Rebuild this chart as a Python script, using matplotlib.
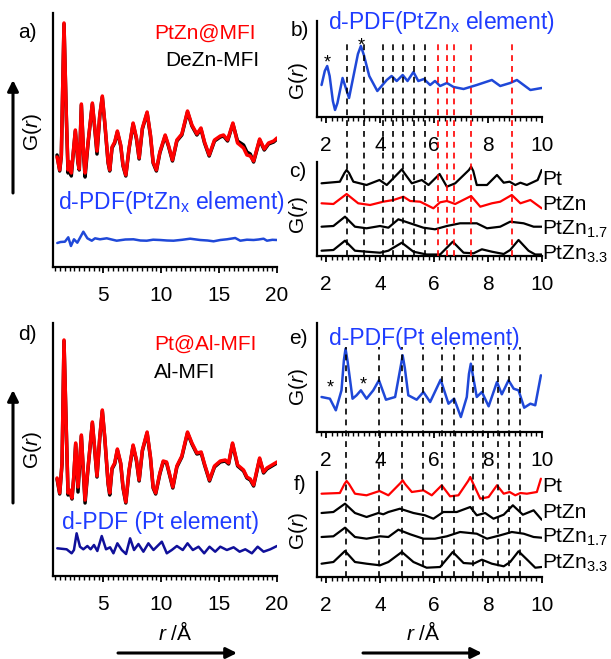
import matplotlib
matplotlib.use('Agg')
import matplotlib.pyplot as plt
import matplotlib.transforms as mtrans
from matplotlib.lines import Line2D
from matplotlib.patches import FancyArrowPatch
from matplotlib.ticker import MultipleLocator

plt.rcParams['font.family'] = ['Liberation Sans', 'DejaVu Sans']
plt.rcParams['mathtext.fontset'] = 'custom'
plt.rcParams['mathtext.rm'] = 'Liberation Sans'
plt.rcParams['mathtext.it'] = 'Liberation Sans:italic'
plt.rcParams['mathtext.bf'] = 'Liberation Sans:bold'

W, H = 611, 659

# ---- panel a : PtZn@MFI / DeZn-MFI and difference ----
a_x = [1.0, 1.23, 1.37, 1.6, 1.8, 1.95, 2.09, 2.23, 2.38, 2.58, 2.81, 2.92, 3.1, 3.3, 3.42,
       3.68, 4.05, 4.26, 4.45, 4.69, 4.91, 5.12, 5.41, 5.55, 5.75, 5.98, 6.21, 6.5, 6.7,
       6.94, 7.22, 7.57, 7.86, 8.09, 8.37, 8.78, 9.07, 9.3, 9.58, 9.88, 10.34, 10.62,
       10.97, 11.35, 11.78, 12.27, 12.65, 13.08, 13.43, 13.74, 14.14, 14.6, 15.1, 15.38,
       15.73, 16.19, 16.59, 17.11, 17.4, 17.69, 17.98, 18.5, 18.9, 19.27, 19.71, 20.0]
a_red = [110, 97, 112, 244, 152, 97, 105, 94, 112, 137, 105, 98, 163, 112, 94,
         125, 164, 139, 116, 152, 171, 145, 105, 97, 120, 125, 136, 122, 102,
         92, 119, 144, 129, 109, 139, 155, 132, 105, 97, 115, 132, 122,
         107, 127, 133, 156, 142, 133, 139, 125, 112, 127, 131, 132,
         127, 144, 124, 119, 112, 111, 106, 128, 118, 124, 126, 129]
a_black = [112, 96, 111, 243, 151, 94, 104, 91, 111, 136, 104, 97, 162, 111, 90,
           124, 163, 138, 113, 151, 170, 144, 104, 96, 119, 124, 135, 121, 101,
           91, 118, 143, 128, 108, 138, 154, 131, 104, 96, 114, 131, 121,
           106, 126, 132, 155, 141, 132, 138, 124, 111, 126, 130, 131,
           126, 143, 126, 122, 115, 113, 105, 127, 117, 123, 125, 128]
a_dx = [1.02, 1.3, 1.68, 1.97, 2.2, 2.46, 2.75, 3.27, 3.62, 4.0, 4.28, 4.71, 5.29, 6.15,
        6.9, 7.6, 8.2, 8.75, 9.3, 9.9, 10.5, 11.06, 11.8, 12.5, 13.36, 14.0, 14.52, 15.1,
        15.67, 16.39, 16.83, 17.4, 17.98, 18.4, 18.84, 19.13, 19.6, 20.0]
a_diff = [24, 25, 25.3, 29.7, 21, 27.7, 24.3, 35.3, 28.7, 26.3, 28.7, 27.7, 28.7, 26.3,
          27.5, 27.7, 26.5, 26.3, 27.3, 27, 26.5, 26.3, 27.2, 28.3, 27, 26.5, 25.7, 27,
          27.7, 29, 26.3, 27.3, 27, 27.5, 28.3, 26.3, 27.2, 27]

# ---- panel d : Pt@Al-MFI / Al-MFI and difference ----
d_x = [1.0, 1.23, 1.43, 1.6, 1.8, 1.95, 2.09, 2.29, 2.44, 2.61, 2.81, 3.1, 3.3, 3.42, 3.68,
       4.05, 4.26, 4.45, 4.69, 4.91, 5.12, 5.41, 5.55, 5.75, 5.98, 6.21, 6.5, 6.7, 6.94,
       7.22, 7.57, 7.86, 8.09, 8.37, 8.78, 9.07, 9.3, 9.52, 9.88, 10.17, 10.46, 11.0,
       11.35, 11.78, 12.27, 12.65, 13.08, 13.45, 13.74, 14.17, 14.6, 15.1, 15.53, 15.82,
       16.16, 16.6, 17.11, 17.4, 17.69, 17.98, 18.5, 18.84, 19.13, 19.71, 20.0]
d_red = [98, 83, 113, 236, 146, 83, 86, 78, 99, 133, 89, 141, 99, 76, 109,
         154, 126, 100, 139, 166, 139, 93, 83, 108, 113, 127, 113, 89, 74,
         106, 131, 116, 96, 126, 144, 119, 89, 83, 103, 115, 114, 89,
         110, 120, 144, 133, 123, 124, 112, 96, 110, 115, 116, 113,
         133, 111, 106, 99, 97, 91, 118, 104, 108, 112, 114]
d_black = [97, 82, 112, 235, 145, 81, 85, 77, 98, 132, 84, 140, 98, 73, 108,
           153, 125, 99, 138, 165, 138, 92, 81, 107, 112, 126, 112, 88, 73,
           105, 130, 115, 95, 125, 143, 118, 88, 82, 102, 114, 113, 88,
           109, 119, 143, 132, 122, 123, 111, 95, 109, 114, 115, 112,
           132, 110, 105, 98, 96, 90, 117, 103, 107, 111, 113]
d_dx = [1.02, 1.83, 2.26, 2.46, 2.69, 2.98, 3.27, 3.62, 3.9, 4.19, 4.48, 4.86, 5.23, 5.58,
        5.87, 6.21, 6.59, 6.96, 7.31, 7.65, 8.03, 8.46, 8.89, 9.33, 10.05, 10.48, 10.91,
        11.35, 11.86, 12.27, 12.73, 13.22, 13.71, 14.17, 14.66, 15.1, 15.67, 16.25, 16.77,
        17.26, 17.83, 18.33, 18.84, 19.42, 20.0]
d_diff = [27.7, 26.7, 22.7, 26, 42.7, 29.3, 26.7, 30, 26.7, 31, 25, 40, 26.7, 28.7,
          22.7, 32.7, 26, 22, 37.7, 26, 32, 24.3, 32.7, 26, 34.3, 22.7, 26,
          30, 26, 32.7, 26, 29.3, 22.7, 29.3, 24.3, 29.3, 26, 28.7, 24.3,
          26.7, 22.7, 29.3, 24.3, 26.7, 30]

# ---- panel b : d-PDF (PtZn_x element) ----
b_x = [1.83, 1.95, 2.04, 2.13, 2.25, 2.33, 2.42, 2.61, 2.85, 3.18, 3.29, 3.4, 3.6, 3.9,
       4.25, 4.43, 4.62, 4.84, 5.02, 5.24, 5.42, 5.63, 5.86, 6.04, 6.23, 6.48, 6.73, 7.1,
       7.59, 8.15, 8.46, 8.83, 9.08, 9.58, 10.0]
b_y = [32, 46, 51, 41, 16, 7, 14, 39, 19, 63, 71, 62, 41, 26,
       37, 41, 36, 42, 36, 45, 36, 38, 32, 36, 31, 34, 30, 28,
       32, 37, 31, 34, 37, 27, 29]
b_black_dash = [2.76, 3.41, 4.10, 4.50, 4.87, 5.27, 5.68]
b_red_dash = [6.17, 6.48, 6.75, 7.38, 8.90]

# ---- panel c : simulated PDFs ----
c_pt_x = [1.83, 2.51, 2.68, 2.76, 2.85, 3.01, 3.5, 3.98, 4.25, 4.72, 4.81, 4.9, 5.18, 5.55,
          5.8, 6.21, 6.48, 6.79, 7.3, 7.38, 7.46, 7.59, 7.97, 8.34, 8.59, 8.81, 9.02, 9.21,
          9.45, 9.85, 10.0]
c_pt_y = [72.7, 74.3, 83, 86, 83, 74.3, 71, 76, 71, 84, 86.7, 83, 72.7, 76,
          71, 82, 69.3, 72.7, 86, 89.3, 85, 71, 71, 81, 73.3, 74.3, 71, 73.3,
          71, 76, 86]
c_ptzn_x = [1.83, 2.27, 2.76, 3.19, 3.63, 4.12, 4.5, 4.87, 5.12, 5.49, 5.98, 6.23, 6.48,
            6.79, 7.38, 7.72, 8.15, 8.46, 8.89, 9.21, 9.58, 10.0]
c_ptzn_y = [52.7, 52, 62, 52.7, 51, 54.3, 56, 59.3, 55, 54.3, 47.7, 53.7, 55,
            52, 60, 49.3, 52.7, 54.3, 61, 52.7, 56, 47.7]
c_pz17_x = [1.83, 2.27, 2.7, 3.07, 3.5, 4.0, 4.31, 4.68, 5.12, 5.61, 6.04, 6.48, 6.97,
            7.59, 7.97, 8.46, 8.83, 9.33, 9.7, 10.0]
c_pz17_y = [29.3, 30, 39.3, 29.3, 27.7, 30, 28.3, 36.7, 32.7, 28.3, 26.7, 30, 32.7,
            32.7, 27.7, 29.3, 34.3, 32.7, 29.3, 29.3]
c_pz33_x = [1.83, 2.27, 2.7, 3.07, 3.5, 4.0, 4.31, 4.81, 5.24, 5.73, 6.23, 6.7, 7.1,
            7.47, 7.78, 8.15, 8.59, 8.83, 9.14, 9.51, 9.76, 10.0]
c_pz33_y = [5.3, 6, 15.3, 5.3, 4.3, 3.3, 5.3, 13.3, 4.3, 1.5, 1.5, 14.3, 3.3,
            2.7, 6.7, 4.3, 2, 6, 16, 5.3, 1.5, 1.5]

# ---- panel e : d-PDF (Pt element) ----
e_x = [1.83, 2.14, 2.36, 2.57, 2.66, 2.72, 2.8, 2.98, 3.13, 3.29, 3.5, 3.75, 3.96, 4.22,
       4.56, 4.77, 4.84, 4.92, 5.05, 5.36, 5.61, 5.86, 6.25, 6.54, 6.75, 7.0, 7.22, 7.3,
       7.37, 7.45, 7.59, 7.78, 8.03, 8.34, 8.52, 8.77, 8.96, 9.14, 9.35, 9.58, 9.76, 9.97]
e_y = [35, 33.3, 21.7, 41.7, 72, 83.3, 70, 33.3, 36.7, 41.7, 33.3, 41.7, 51.7, 32.3,
       35, 66, 76.7, 64, 36.7, 32.3, 40, 30, 52.3, 28.3, 33.3, 15, 35, 58,
       68.3, 56, 35, 40, 25.7, 50, 37.7, 51.7, 43.3, 41.7, 24.3, 28.3, 26.7, 56.7]
e_dash = [2.74, 3.98, 4.81, 5.61, 6.29, 6.75, 7.45, 7.82, 8.37, 8.77, 9.18]

# ---- panel f : simulated PDFs ----
f_pt_x = [1.83, 2.51, 2.68, 2.76, 2.85, 3.07, 3.5, 3.98, 4.31, 4.76, 4.84, 4.93, 5.18,
          5.61, 5.92, 6.29, 6.6, 6.91, 7.27, 7.35, 7.43, 7.72, 8.03, 8.34, 8.59, 8.81,
          9.02, 9.21, 9.45, 9.82, 9.97]
f_pt_y = [83.3, 84, 93, 96, 93, 83.3, 81.7, 86, 81.7, 94, 96.7, 93, 85,
          86.7, 81.7, 91.7, 80.7, 81.7, 96, 100, 95, 78.3, 80, 91.7, 83.3, 85,
          81.7, 84, 83.3, 85, 98.3]
f_ptzn_x = [1.83, 2.27, 2.7, 3.07, 3.5, 3.94, 4.12, 4.31, 4.74, 5.24, 5.67, 5.98, 6.35,
            6.85, 7.35, 7.59, 7.9, 8.21, 8.59, 8.93, 9.3, 9.7, 10.0]
f_ptzn_y = [64, 65, 73.3, 64, 60, 64, 62.7, 65, 68.3, 64, 61.7, 58.3, 65,
            65, 70, 61.7, 64, 58.3, 62.3, 71.7, 62.3, 66.7, 57.3]
f_pz17_x = [1.83, 2.27, 2.7, 3.07, 3.5, 4.0, 4.31, 4.68, 5.12, 5.61, 6.04, 6.48, 6.97,
            7.59, 7.97, 8.46, 8.89, 9.33, 9.7, 10.0]
f_pz17_y = [40, 40.7, 49.3, 40, 38.3, 40.7, 40, 47.3, 42.7, 38.3, 38.3, 40.7, 45,
            43.3, 38.3, 41.7, 45, 43.3, 40, 39.3]
f_pz33_x = [1.83, 2.27, 2.7, 3.07, 3.5, 4.0, 4.31, 4.81, 5.24, 5.73, 6.23, 6.7, 7.1,
            7.47, 7.78, 8.15, 8.59, 8.83, 9.14, 9.51, 9.76, 10.0]
f_pz33_y = [13.3, 15, 26, 15, 13.3, 11.7, 15, 25, 15, 9.3, 10, 25, 14,
            13.3, 17.3, 13.3, 10.7, 15, 25.7, 16, 9.3, 10]

RED = '#ff0000'
BLUE = '#1f48d8'
NAVY = '#10109a'
TBLUE = '#1f3cff'
FS = 15
FS_PDF = 16.5


def frac(px, py):
    return px / W, 1 - py / H


def box(left, top, right, bottom):
    return [left / W, 1 - bottom / H, (right - left) / W, (bottom - top) / H]


def style(ax, xlim, ylim, major, minor):
    ax.set_xlim(*xlim)
    ax.set_ylim(*ylim)
    ax.patch.set_alpha(0)
    for s in ['top', 'right']:
        ax.spines[s].set_visible(False)
    for s in ['left', 'bottom']:
        ax.spines[s].set_linewidth(1.6)
    ax.set_yticks([])
    ax.xaxis.set_major_locator(MultipleLocator(major))
    ax.xaxis.set_minor_locator(MultipleLocator(minor))
    ax.tick_params(axis='x', which='major', length=4.5, width=1.3, labelsize=FS, pad=9)
    ax.tick_params(axis='x', which='minor', length=3, width=1.0)


def txt(px, py, s, **kw):
    kw.setdefault('fontsize', FS)
    kw.setdefault('va', 'center')
    fig.text(*frac(px, py), s, **kw)


def arrow(p0, p1):
    fig.add_artist(FancyArrowPatch(
        (p0[0], H - p0[1]), (p1[0], H - p1[1]), transform=None,
        arrowstyle='-|>', mutation_scale=16, lw=2.2, color='k',
        shrinkA=0, shrinkB=0))


def vdash(ax, xs, ytop, ybot, color):
    tr = mtrans.blended_transform_factory(ax.transData, fig.transFigure)
    for x in xs:
        fig.add_artist(Line2D([x, x], [1 - ybot / H, 1 - ytop / H], transform=tr,
                              color=color, lw=1.2, ls=(0, (3.5, 3))))


def curve(ax, x, y, color, lw):
    ax.plot(x, y, color=color, lw=lw, solid_joinstyle='round', solid_capstyle='round')


fig = plt.figure(figsize=(W / 100, H / 100), dpi=100)

ax_a = fig.add_axes(box(53, 13, 277, 267))
ax_d = fig.add_axes(box(53, 323, 277, 576))
ax_b = fig.add_axes(box(316.7, 21, 541.7, 117))
ax_c = fig.add_axes(box(316.7, 162, 541.7, 256))
ax_e = fig.add_axes(box(316.7, 323, 541.7, 432))
ax_f = fig.add_axes(box(316.7, 472, 541.7, 577))

# a
style(ax_a, (0.65, 20), (0, 254), 5, 5 / 12)
curve(ax_a, a_x, a_black, 'k', 2.5)
curve(ax_a, a_x, a_red, RED, 2.5)
curve(ax_a, a_dx, a_diff, BLUE, 1.8)

# d
style(ax_d, (0.65, 20), (0, 253), 5, 5 / 12)
curve(ax_d, d_x, d_black, 'k', 2.5)
curve(ax_d, d_x, d_red, RED, 2.5)
curve(ax_d, d_dx, d_diff, NAVY, 1.8)

# b
style(ax_b, (1.65, 10), (0, 96), 2, 0.2)
curve(ax_b, b_x, b_y, BLUE, 1.8)
ax_b.text(2.04, 54, '*', ha='center', va='center', fontsize=13)
ax_b.text(3.29, 71, '*', ha='center', va='center', fontsize=13)

# c
style(ax_c, (1.65, 10), (0, 94), 2, 0.2)
curve(ax_c, c_pt_x, c_pt_y, 'k', 1.6)
curve(ax_c, c_ptzn_x, c_ptzn_y, RED, 1.6)
curve(ax_c, c_pz17_x, c_pz17_y, 'k', 1.6)
curve(ax_c, c_pz33_x, c_pz33_y, 'k', 1.6)

# e
style(ax_e, (1.65, 10), (0, 109), 2, 0.2)
curve(ax_e, e_x, e_y, BLUE, 1.8)
ax_e.text(2.14, 44, '*', ha='center', va='center', fontsize=13)
ax_e.text(3.37, 47, '*', ha='center', va='center', fontsize=13)

# f
style(ax_f, (1.65, 10), (0, 105), 2, 0.2)
curve(ax_f, f_pt_x, f_pt_y, RED, 1.6)
curve(ax_f, f_ptzn_x, f_ptzn_y, 'k', 1.6)
curve(ax_f, f_pz17_x, f_pz17_y, 'k', 1.6)
curve(ax_f, f_pz33_x, f_pz33_y, 'k', 1.6)

# dashed guide lines through b/c and e/f
vdash(ax_c, b_black_dash, 42, 256, 'k')
vdash(ax_c, b_red_dash, 42, 256, RED)
vdash(ax_f, e_dash, 347, 577, 'k')

# labels
txt(27, 33, 'a)', ha='center')
txt(154, 33, 'PtZn@MFI', color=RED)
txt(165, 60, 'DeZn-MFI')
txt(33, 132, r'G($\it{r}$)', rotation=90, ha='center')
txt(58, 203, r'd-PDF(PtZn$_\mathrm{x}$ element)', color=TBLUE, fontsize=FS_PDF)
arrow((13, 193), (13, 80))

txt(27, 334, 'd)', ha='center')
txt(154, 344, 'Pt@Al-MFI', color=RED)
txt(154, 373, 'Al-MFI')
txt(33, 450, r'G($\it{r}$)', rotation=90, ha='center')
txt(62, 522, 'd-PDF (Pt element)', color=TBLUE, fontsize=FS_PDF)
arrow((13, 503), (13, 390))
txt(175, 633, r'$\it{r}$ /Å', ha='center')
arrow((118, 653), (237, 653))

txt(300, 31, 'b)', ha='center')
txt(298, 81, r'G($\it{r}$)', rotation=90, ha='center')
txt(328, 23, r'd-PDF(PtZn$_\mathrm{x}$ element)', color=TBLUE, fontsize=FS_PDF)
txt(298, 172, 'c)', ha='center')
txt(299, 215, r'G($\it{r}$)', rotation=90, ha='center')
txt(542, 180, 'Pt')
txt(542, 204, 'PtZn')
txt(542, 229, r'PtZn$_{1.7}$')
txt(542, 254, r'PtZn$_{3.3}$')

txt(298, 339, 'e)', ha='center')
txt(298, 387, r'G($\it{r}$)', rotation=90, ha='center')
txt(329, 338, 'd-PDF(Pt element)', color=TBLUE, fontsize=FS_PDF)
txt(300, 484, 'f)', ha='center')
txt(299, 531, r'G($\it{r}$)', rotation=90, ha='center')
txt(542, 487, 'Pt')
txt(542, 513, 'PtZn')
txt(542, 537, r'PtZn$_{1.7}$')
txt(542, 563, r'PtZn$_{3.3}$')
txt(423, 633, r'$\it{r}$ /Å', ha='center')
arrow((363, 653), (482, 653))

fig.savefig('out.png', dpi=100)
